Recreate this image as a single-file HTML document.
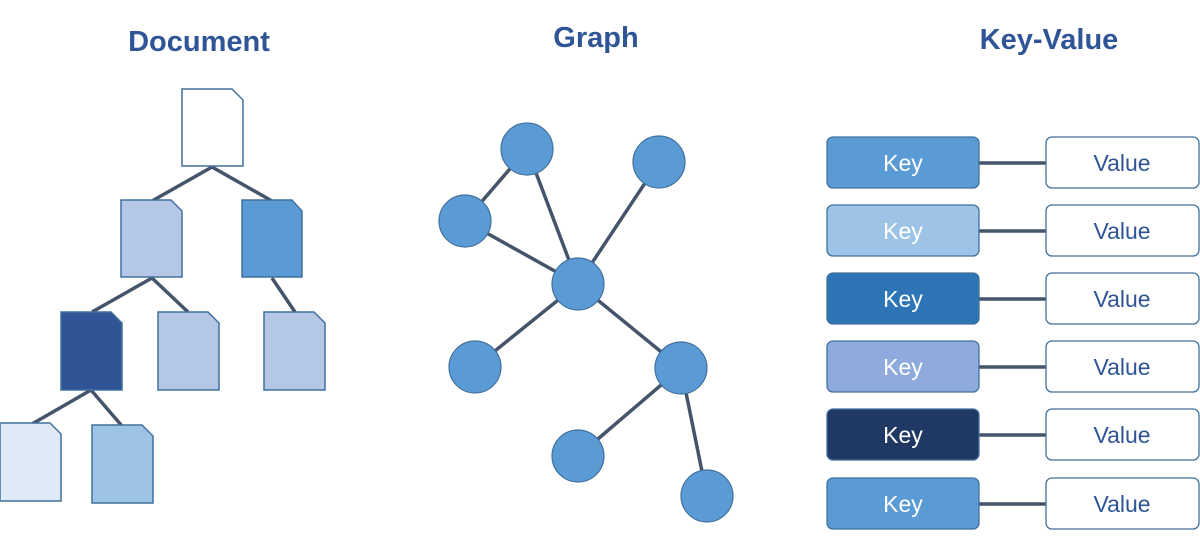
<!DOCTYPE html>
<html><head><meta charset="utf-8"><style>
html,body{margin:0;padding:0;background:#fff;width:1200px;height:538px;overflow:hidden}
</style></head><body>
<svg width="1200" height="538" viewBox="0 0 1200 538" xmlns="http://www.w3.org/2000/svg" font-family="Liberation Sans, sans-serif">
<g font-weight="bold" fill="#2f5597" font-size="29" text-anchor="middle">
<text x="199" y="51">Document</text>
<text x="596" y="47">Graph</text>
<text x="1049" y="49">Key-Value</text>
</g>
<g stroke="#44546a" stroke-width="3.5" fill="none">
<line x1="212" y1="167" x2="152" y2="201"/>
<line x1="212" y1="167" x2="272" y2="201"/>
<line x1="152" y1="278" x2="92" y2="312"/>
<line x1="152" y1="278" x2="188" y2="312"/>
<line x1="272" y1="278" x2="295" y2="312"/>
<line x1="91" y1="390" x2="32" y2="424"/>
<line x1="91" y1="390" x2="122" y2="426"/>
</g>
<g stroke="#41719c" stroke-width="1.5">
<path d="M182 89 H232 L243 100 V166 H182 Z" fill="#fff"/>
<path d="M121 200 H171 L182 211 V277 H121 Z" fill="#b4c7e7"/>
<path d="M242 200 H292 L302 211 V277 H242 Z" fill="#5b9bd5"/>
<path d="M61 312 H111 L122 323 V390 H61 Z" fill="#2f5597"/>
<path d="M158 312 H208 L219 323 V390 H158 Z" fill="#b4c7e7"/>
<path d="M264 312 H314 L325 323 V390 H264 Z" fill="#b4c7e7"/>
<path d="M0 423 H50 L61 434 V501 H0 Z" fill="#deebf7"/>
<path d="M92 425 H142 L153 436 V503 H92 Z" fill="#9dc3e6"/>
</g>
<g stroke="#44546a" stroke-width="3.5">
<line x1="527" y1="149" x2="465" y2="221"/>
<line x1="527" y1="149" x2="578" y2="284"/>
<line x1="659" y1="162" x2="578" y2="284"/>
<line x1="465" y1="221" x2="578" y2="284"/>
<line x1="578" y1="284" x2="475" y2="367"/>
<line x1="578" y1="284" x2="681" y2="368"/>
<line x1="681" y1="368" x2="578" y2="456"/>
<line x1="681" y1="368" x2="707" y2="496"/>
</g>
<g fill="#5b9bd5" stroke="#41719c" stroke-width="1.2">
<circle cx="527" cy="149" r="26"/>
<circle cx="659" cy="162" r="26"/>
<circle cx="465" cy="221" r="26"/>
<circle cx="578" cy="284" r="26"/>
<circle cx="475" cy="367" r="26"/>
<circle cx="681" cy="368" r="26"/>
<circle cx="578" cy="456" r="26"/>
<circle cx="707" cy="496" r="26"/>
</g>
<g stroke="#44546a" stroke-width="3.5">
<line x1="979" y1="163" x2="1046" y2="163"/>
<line x1="979" y1="231" x2="1046" y2="231"/>
<line x1="979" y1="299" x2="1046" y2="299"/>
<line x1="979" y1="367" x2="1046" y2="367"/>
<line x1="979" y1="435" x2="1046" y2="435"/>
<line x1="979" y1="504" x2="1046" y2="504"/>
</g>
<g stroke="#41719c" stroke-width="1.3">
<rect x="827" y="137" width="152" height="51" rx="6" fill="#5b9bd5"/>
<rect x="827" y="205" width="152" height="51" rx="6" fill="#9dc3e6"/>
<rect x="827" y="273" width="152" height="51" rx="6" fill="#2e75b6"/>
<rect x="827" y="341" width="152" height="51" rx="6" fill="#8faadc"/>
<rect x="827" y="409" width="152" height="51" rx="6" fill="#203864"/>
<rect x="827" y="478" width="152" height="51" rx="6" fill="#5b9bd5"/>
<rect x="1046" y="137" width="153" height="51" rx="6" fill="#fff"/>
<rect x="1046" y="205" width="153" height="51" rx="6" fill="#fff"/>
<rect x="1046" y="273" width="153" height="51" rx="6" fill="#fff"/>
<rect x="1046" y="341" width="153" height="51" rx="6" fill="#fff"/>
<rect x="1046" y="409" width="153" height="51" rx="6" fill="#fff"/>
<rect x="1046" y="478" width="153" height="51" rx="6" fill="#fff"/>
</g>
<g font-size="23" text-anchor="middle" fill="#fff">
<text x="903" y="171">Key</text>
<text x="903" y="239">Key</text>
<text x="903" y="307">Key</text>
<text x="903" y="375">Key</text>
<text x="903" y="443">Key</text>
<text x="903" y="512">Key</text>
</g>
<g font-size="23" text-anchor="middle" fill="#2f5597">
<text x="1122" y="171">Value</text>
<text x="1122" y="239">Value</text>
<text x="1122" y="307">Value</text>
<text x="1122" y="375">Value</text>
<text x="1122" y="443">Value</text>
<text x="1122" y="512">Value</text>
</g>
</svg>
</body></html>
